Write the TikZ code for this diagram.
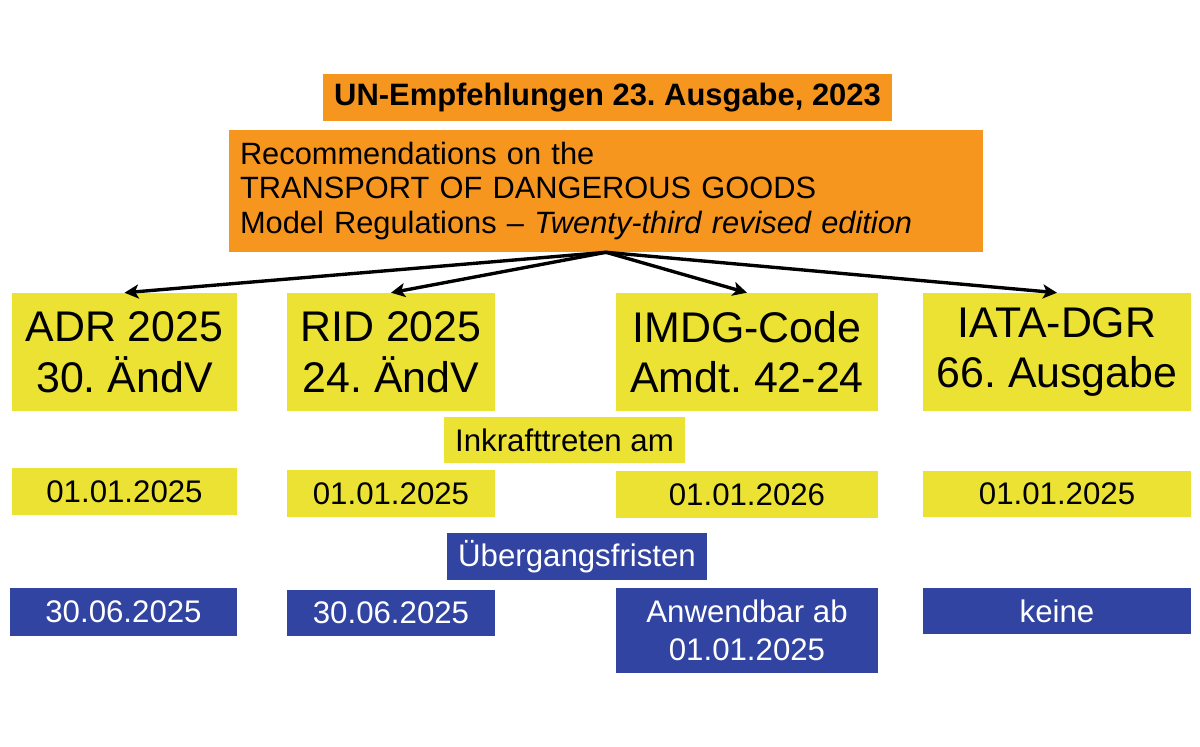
\documentclass[tikz,border=0pt]{standalone}
\usepackage{fontspec}
\setmainfont{Liberation Sans}
\usetikzlibrary{arrows.meta}
\frenchspacing

\definecolor{unorange}{RGB}{246,150,30}
\definecolor{unyellow}{RGB}{236,226,52}
\definecolor{unblue}{RGB}{50,68,162}

\newlength\pxu
\setlength\pxu{0.025cm}

\tikzset{
  orangebox/.style={rectangle,fill=unorange,inner sep=0pt},
  yellowbox/.style={rectangle,fill=unyellow,inner sep=0pt,align=center},
  bluebox/.style={rectangle,fill=unblue,text=white,inner sep=0pt,align=center},
  bigtext/.style={font=\fontsize{30.5}{36}\selectfont},
  smalltext/.style={font=\fontsize{22.2}{27}\selectfont},
  arrowline/.style={line width=2.4pt,-{Stealth[length=10pt,width=10pt,inset=2.5pt]}}
}

\begin{document}
\begin{tikzpicture}[x=0.025cm,y=-0.025cm]
\useasboundingbox (0,0) rectangle (1200,746);

% title node
\node[orangebox,minimum width=569\pxu,minimum height=47\pxu,
  font=\fontsize{22}{26}\selectfont\bfseries] (title) at (607.5,97.5)
  {UN-Empfehlungen 23. Ausgabe, 2023};

% model regulations node
\node[orangebox,minimum height=122\pxu,text width=732\pxu,align=left,
  inner xsep=11\pxu,font=\fontsize{21.9}{24.5}\selectfont] (model) at (606,191)
  {Recommendations on the\\
   TRANSPORT OF DANGEROUS GOODS\\
   Model Regulations -- \textit{Twenty-third revised edition}};

% regulation nodes
\node[yellowbox,bigtext,minimum width=225\pxu,minimum height=118\pxu] (adr) at (124.5,352) {ADR 2025\\30. ÄndV};
\node[yellowbox,bigtext,minimum width=208\pxu,minimum height=118\pxu] (rid) at (391,352) {RID 2025\\24. ÄndV};
\node[yellowbox,bigtext,minimum width=262\pxu,minimum height=118\pxu] (imdg) at (747,352) {IMDG-Code\\Amdt. 42-24};
\node[yellowbox,bigtext,minimum width=268\pxu,minimum height=118\pxu] (iata) at (1057,352) {IATA-DGR\\66. Ausgabe};

\draw[arrowline] (model.south) -- (adr.north);
\draw[arrowline] (model.south) -- (rid.north);
\draw[arrowline] (model.south) -- (imdg.north);
\draw[arrowline] (model.south) -- (iata.north);

% entry into force node
\node[yellowbox,smalltext,minimum width=241\pxu,minimum height=46\pxu] (entry) at (564.5,440) {Inkrafttreten am};

% entry date nodes
\node[yellowbox,smalltext,minimum width=225\pxu,minimum height=47\pxu] (adr_entry) at (124.5,491.5) {01.01.2025};
\node[yellowbox,smalltext,minimum width=208\pxu,minimum height=47\pxu] (rid_entry) at (391,493.5) {01.01.2025};
\node[yellowbox,smalltext,minimum width=262\pxu,minimum height=47\pxu] (imdg_entry) at (747,494.5) {01.01.2026};
\node[yellowbox,smalltext,minimum width=268\pxu,minimum height=46\pxu] (iata_entry) at (1057,494) {01.01.2025};

% transition node
\node[bluebox,smalltext,minimum width=260\pxu,minimum height=47\pxu] (transition) at (577,556.5) {Übergangsfristen};

% transition date nodes
\node[bluebox,smalltext,minimum width=227\pxu,minimum height=48\pxu] (adr_trans) at (123.5,612) {30.06.2025};
\node[bluebox,smalltext,minimum width=208\pxu,minimum height=46\pxu] (rid_trans) at (391,613) {30.06.2025};
\node[bluebox,smalltext,minimum width=262\pxu,minimum height=85\pxu] (imdg_trans) at (747,630.5) {Anwendbar ab\\01.01.2025};
\node[bluebox,smalltext,minimum width=268\pxu,minimum height=46\pxu] (iata_trans) at (1057,611) {keine};

\end{tikzpicture}
\end{document}
